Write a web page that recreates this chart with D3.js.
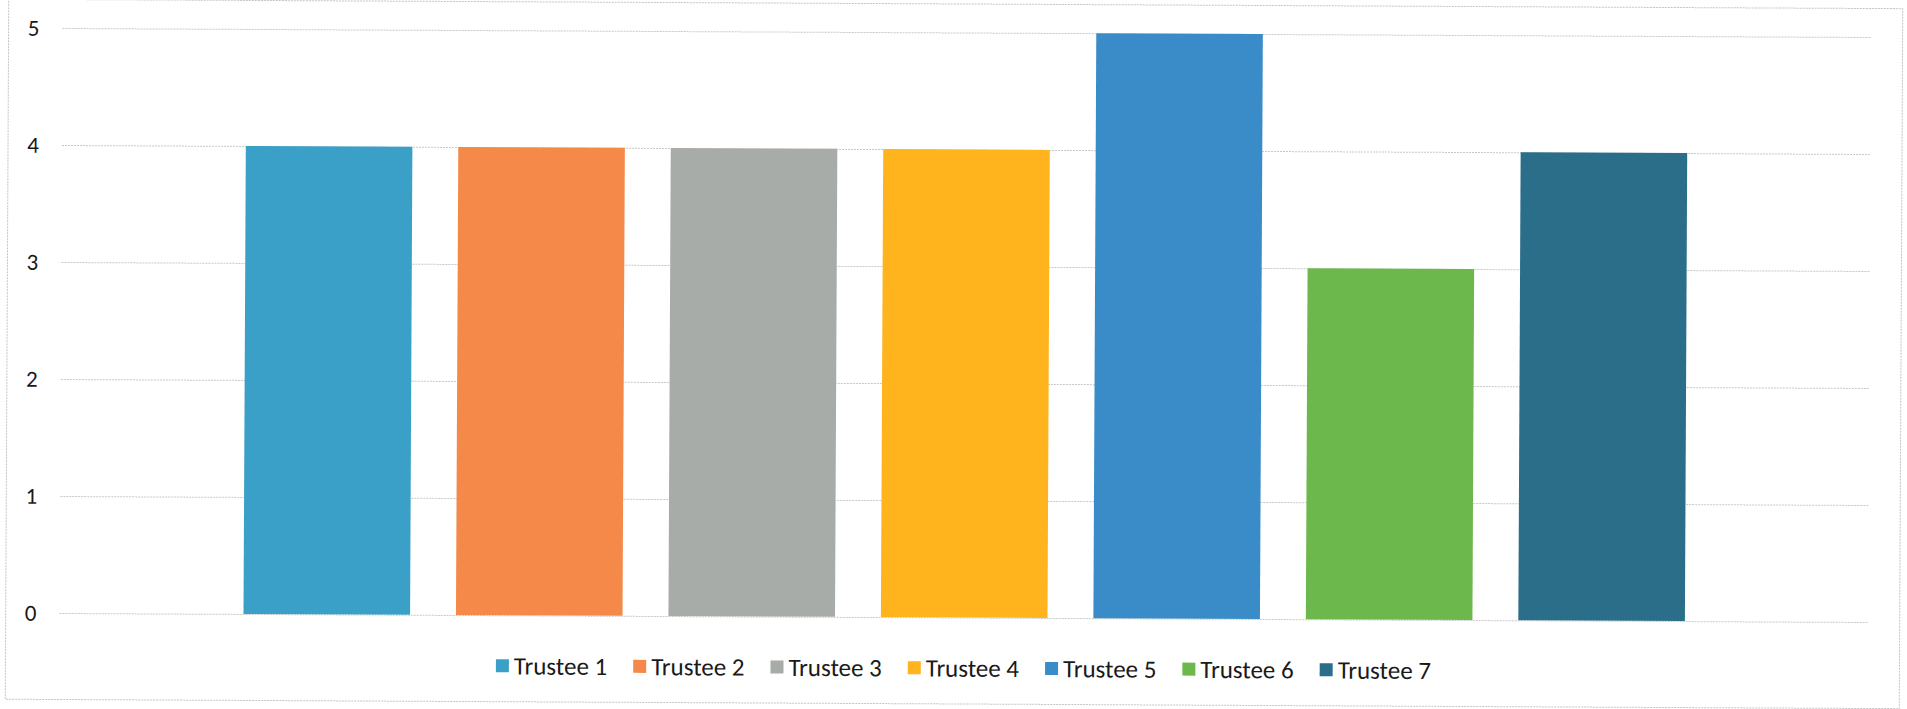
<!DOCTYPE html>
<html>
<head>
<meta charset="utf-8">
<script src="https://cdn.jsdelivr.net/npm/d3@7"></script>
<style>
  html, body { margin: 0; padding: 0; background: #fff; }
  svg { display: block; }
  text { font-family: Carlito, "Liberation Sans Narrow", "Open Sans", sans-serif; fill: #1a1a1a; }
</style>
</head>
<body>
<script>
// data
var trustees = ["Trustee 1", "Trustee 2", "Trustee 3", "Trustee 4", "Trustee 5", "Trustee 6", "Trustee 7"];
var scores = [4, 4, 4, 4, 5, 3, 4];
var colors = ["#3ba0c8", "#f5894a", "#a8aca8", "#ffb31d", "#3a8cc8", "#6cb84c", "#2a6e8a"];
var yTicks = [0, 1, 2, 3, 4, 5];

var W = 1907, H = 709;
var margin = { left: 61, right: 37, top: 32.5, bottom: 91.5 };

var svg = d3.select("body").append("svg")
    .attr("width", W)
    .attr("height", H);

// the scan is tilted a little, so rotate everything the same way
var root = svg.append("g")
    .attr("transform", "rotate(0.285, 965, 354)");

root.append("rect")
    .attr("x", 7).attr("y", 4)
    .attr("width", 1894).attr("height", 700)
    .attr("fill", "none")
    .attr("stroke", "#c4c4c4")
    .attr("stroke-dasharray", "2,1");

var scaleY = d3.scaleLinear()
    .domain([0, 5])
    .range([H - margin.bottom, margin.top]);

var scaleX = d3.scaleBand()
    .domain(trustees)
    .range([margin.left, W - margin.right])
    .paddingInner(0.216)
    .paddingOuter(0.865);

// gridlines + labels via axis
var yAxis = d3.axisLeft(scaleY)
    .tickValues(yTicks)
    .tickFormat(d3.format("d"))
    .tickSize(-(W - margin.left - margin.right))
    .tickPadding(17);

var gy = root.append("g")
    .attr("transform", "translate(" + margin.left + ",0)")
    .call(yAxis);
gy.select(".domain").remove();
gy.selectAll(".tick line")
    .attr("stroke", "#c8c8c8")
    .attr("stroke-dasharray", "2,1");
gy.selectAll(".tick text")
    .attr("x", -29)
    .attr("text-anchor", "middle")
    .style("font-size", "23px")
    .attr("fill", "#1a1a1a");

root.append("g")
    .selectAll("rect")
    .data(scores)
    .enter()
    .append("rect")
    .attr("x", (d, i) => scaleX(trustees[i]))
    .attr("y", (d) => scaleY(d))
    .attr("width", scaleX.bandwidth())
    .attr("height", (d) => scaleY(0) - scaleY(d))
    .attr("fill", (d, i) => colors[i]);

// legend
var legend = root.append("g").attr("class", "legend");
var items = legend.selectAll("g")
    .data(trustees)
    .enter()
    .append("g");
items.append("rect")
    .attr("width", 13).attr("height", 13)
    .attr("y", -6.5)
    .attr("fill", (d, i) => colors[i]);
items.append("text")
    .attr("x", 18)
    .attr("dy", "0.35em")
    .style("font-size", "25px")
    .text((d) => d);

var xpos = 0;
items.each(function () {
    var g = d3.select(this);
    var tw = g.select("text").node().getComputedTextLength();
    g.attr("transform", "translate(" + xpos + ",0)");
    xpos += 18 + tw + 26;
});
var totalW = xpos - 26;
legend.attr("transform", "translate(" + (965 - totalW / 2) + ",668)");
</script>
</body>
</html>
